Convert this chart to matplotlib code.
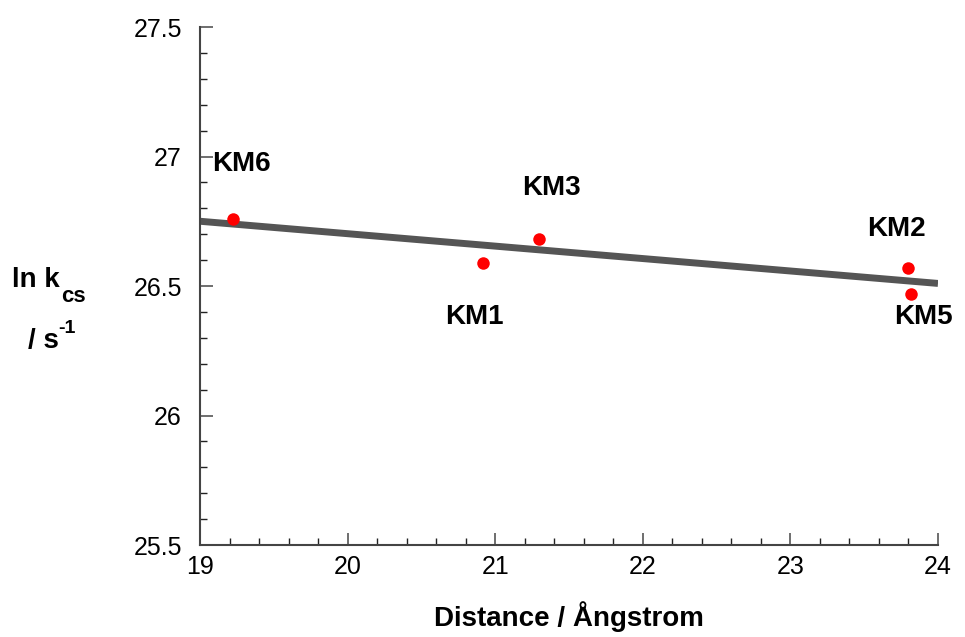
import matplotlib
matplotlib.use('Agg')
import matplotlib.pyplot as plt
from matplotlib.ticker import MultipleLocator

plt.rcParams['font.family'] = ['Liberation Sans', 'DejaVu Sans']

# Data
names = ['KM6', 'KM1', 'KM3', 'KM2', 'KM5']
distance = [19.22, 20.92, 21.30, 23.80, 23.82]
ln_kcs = [26.76, 26.59, 26.68, 26.57, 26.47]
label_x = [19.28, 20.86, 21.38, 23.72, 23.90]
label_y = [26.97, 26.38, 26.88, 26.72, 26.38]
fit_x = [19.0, 24.0]
fit_y = [26.75, 26.51]

fig = plt.figure(figsize=(9.65, 6.37), dpi=100)
ax = fig.add_axes([0.2073, 0.1444, 0.7647, 0.8132])

grey = '#555555'
ax.plot(fit_x, fit_y, color=grey, lw=5, solid_capstyle='butt', zorder=2)
ax.plot(distance, ln_kcs, 'o', color='#ff0000', ms=9, mec='none', zorder=3)

for n, lx, ly in zip(names, label_x, label_y):
    ax.text(lx, ly, n, fontsize=20, fontweight='bold', ha='center', va='center')

ax.set_xlim(19, 24)
ax.set_ylim(25.5, 27.5)
ax.xaxis.set_major_locator(MultipleLocator(1))
ax.xaxis.set_minor_locator(MultipleLocator(0.2))
ax.yaxis.set_major_locator(MultipleLocator(0.5))
ax.yaxis.set_minor_locator(MultipleLocator(0.1))
ax.yaxis.set_major_formatter(plt.FuncFormatter(lambda v, p: f'{v:g}'))

for s in ['top', 'right']:
    ax.spines[s].set_visible(False)
for s in ['left', 'bottom']:
    ax.spines[s].set_color('#444444')
    ax.spines[s].set_linewidth(1.5)

ax.tick_params(which='major', direction='in', length=9, width=1.2, color=grey, labelsize=18)
ax.tick_params(which='minor', direction='in', length=5, width=1.0, color='#222222')
ax.tick_params(axis='y', which='major', pad=13)
ax.tick_params(axis='x', which='major', pad=7)

ax.set_xlabel('Distance / Ångstrom', fontsize=20, fontweight='bold', labelpad=16)

# y label, drawn as pieces so the sub/superscripts match
H = 637.0
fig.text(12 / 965, 1 - 287 / H, 'ln k', fontsize=20, fontweight='bold', ha='left', va='baseline')
fig.text(61 / 965, 1 - 302 / H, 'cs', fontsize=16, fontweight='bold', ha='left', va='baseline')
fig.text(28 / 965, 1 - 348 / H, '/ s', fontsize=20, fontweight='bold', ha='left', va='baseline')
fig.text(58 / 965, 1 - 333 / H, '-1', fontsize=14, fontweight='bold', ha='left', va='baseline')

fig.savefig('out.png', dpi=100)
